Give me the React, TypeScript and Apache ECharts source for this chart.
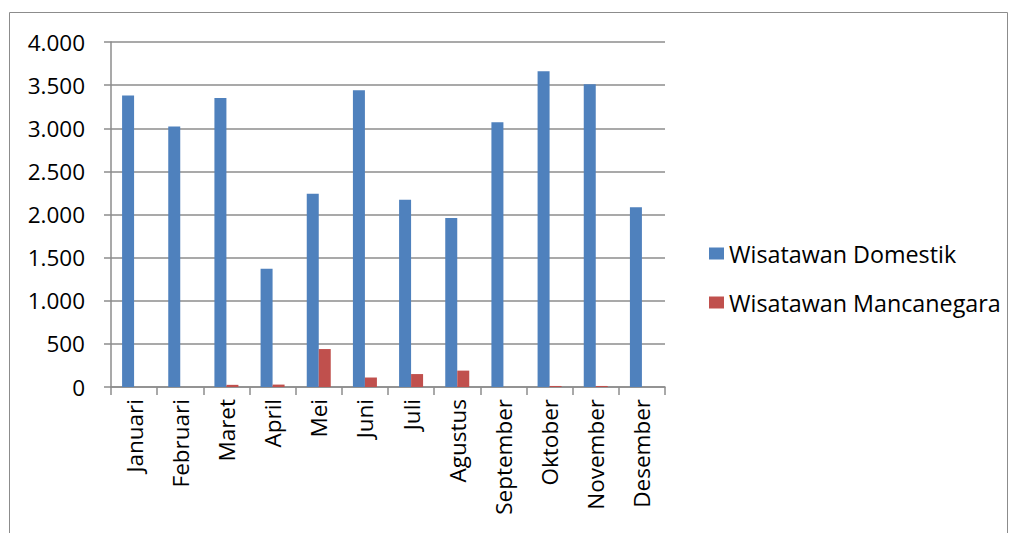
import React, { useEffect, useRef } from "react";
import * as echarts from "echarts";

const categories = ["Januari", "Februari", "Maret", "April", "Mei", "Juni", "Juli", "Agustus", "September", "Oktober", "November", "Desember"];
const domestik = [3380, 3020, 3350, 1370, 2240, 3440, 2170, 1960, 3070, 3660, 3510, 2085];
const mancanegara = [0, 0, 25, 28, 440, 110, 150, 190, 0, 12, 12, 0];
const seriesNames = ["Wisatawan Domestik", "Wisatawan Mancanegara"];
const yTicks = { min: 0, max: 4000, interval: 500 };

const FONT = "Open Sans, Liberation Sans, sans-serif";

export default function App() {
  const ref = useRef<HTMLDivElement>(null);
  useEffect(() => {
    const chart = echarts.init(ref.current!, null, { renderer: "svg" });
    chart.setOption({
      animation: false,
      backgroundColor: "#fff",
      graphic: [
        {
          type: "rect",
          shape: { x: 9.5, y: 12.5, width: 998, height: 540 },
          style: { fill: "none", stroke: "#8c8c8c", lineWidth: 1 },
          silent: true,
        },
      ],
      grid: { left: 111, right: 353, top: 42, bottom: 146, containLabel: false },
      legend: {
        orient: "vertical",
        left: 704,
        top: 236,
        icon: "rect",
        itemWidth: 15,
        itemHeight: 12,
        itemGap: 24,
        textStyle: { fontSize: 23.3, color: "#000", fontFamily: FONT, lineHeight: 25 },
        data: seriesNames,
      },
      xAxis: {
        type: "category",
        data: categories,
        axisLine: { lineStyle: { color: "#8c8c8c", width: 1.5 } },
        axisTick: { show: true, length: 8, alignWithLabel: false, lineStyle: { color: "#8c8c8c", width: 1.5 } },
        axisLabel: { rotate: 90, fontSize: 22.5, color: "#000", fontFamily: FONT, margin: 12 },
      },
      yAxis: {
        type: "value",
        min: yTicks.min,
        max: yTicks.max,
        interval: yTicks.interval,
        axisLine: { show: true, lineStyle: { color: "#8c8c8c", width: 1.5 } },
        axisTick: { show: true, length: 7, lineStyle: { color: "#8c8c8c", width: 1.5 } },
        splitLine: { lineStyle: { color: "#8c8c8c", width: 1.5 } },
        axisLabel: {
          fontSize: 22.5,
          color: "#000",
          fontFamily: FONT,
          margin: 26,
          formatter: (v: number) => v.toLocaleString("de-DE"),
        },
      },
      series: [
        {
          name: seriesNames[0],
          type: "bar",
          data: domestik,
          barWidth: 12,
          barGap: "0%",
          itemStyle: { color: "#4F81BD" },
        },
        {
          name: seriesNames[1],
          type: "bar",
          data: mancanegara,
          barWidth: 12,
          barGap: "0%",
          itemStyle: { color: "#C0504D" },
        },
      ],
    });
    return () => chart.dispose();
  }, []);
  return (
    <div
      ref={ref}
      style={{ position: "absolute", left: 0, top: 0, width: 1018, height: 533 }}
    />
  );
}
